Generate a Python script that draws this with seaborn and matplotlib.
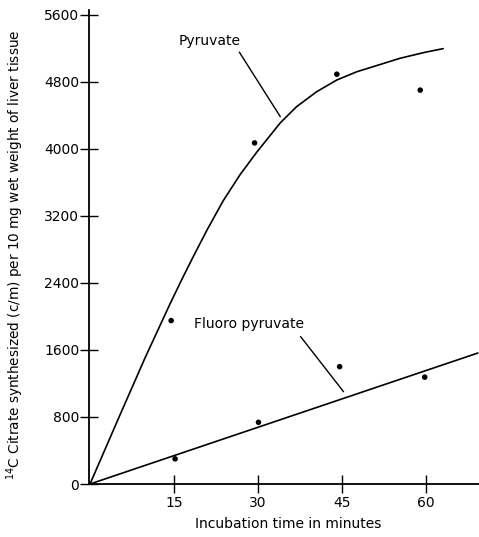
import matplotlib
matplotlib.use("Agg")
import matplotlib.pyplot as plt
import seaborn as sns

# Data
pyr_x = [14.5, 29.4, 44.1, 59.0]
pyr_y = [1950, 4070, 4890, 4700]
flu_x = [15.2, 30.1, 44.6, 59.8]
flu_y = [300, 736, 1400, 1275]

# Fitted curves as drawn in the figure
pyr_curve_x = [0, 5.1, 9.8, 14.3, 16.4, 18.5, 20.9, 23.8, 26.8, 29.8, 32.2, 34.0,
               36.9, 40.5, 44.1, 47.7, 50.6, 55.4, 59.9, 63.1]
pyr_curve_y = [0, 785, 1500, 2150, 2440, 2720, 3030, 3380, 3690, 3960, 4160, 4310,
               4502, 4681, 4821, 4920, 4980, 5080, 5152, 5195]
flu_curve_x = [0, 69.3]
flu_curve_y = [0, 1563]

x_ticks = [15, 30, 45, 60]
y_ticks = [0, 800, 1600, 2400, 3200, 4000, 4800, 5600]

sns.set_style("ticks")
plt.rcParams['font.family'] = ['DejaVu Sans']
for k in ["text.color", "axes.labelcolor", "xtick.color", "ytick.color", "axes.edgecolor"]:
    plt.rcParams[k] = "black"

fig = plt.figure(figsize=(4.79, 5.37), dpi=100)
W, H = 479, 537
ax = fig.add_axes([89 / W, 1 - 484 / H, (479 - 89) / W, (484 - 10) / H])

sns.lineplot(x=pyr_curve_x, y=pyr_curve_y, ax=ax, color="black", lw=1.2, sort=False)
sns.lineplot(x=flu_curve_x, y=flu_curve_y, ax=ax, color="black", lw=1.2, sort=False)
sns.scatterplot(x=pyr_x, y=pyr_y, ax=ax, color="black", s=16, edgecolor="none")
sns.scatterplot(x=flu_x, y=flu_y, ax=ax, color="black", s=16, edgecolor="none")

# annotations with pointer lines
ax.annotate("Pyruvate", xy=(34.0, 4383), xytext=(21.3, 5290),
            ha="center", va="center", fontsize=10,
            arrowprops=dict(arrowstyle="-", color="black", lw=1.0,
                            shrinkA=1, shrinkB=0,
                            relpos=(0.94, 0.0)))
ax.annotate("Fluoro pyruvate", xy=(45.3, 1101), xytext=(28.4, 1909),
            ha="center", va="center", fontsize=10,
            arrowprops=dict(arrowstyle="-", color="black", lw=1.0,
                            shrinkA=2, shrinkB=0,
                            relpos=(0.93, 0.0)))

ax.set_xlim(-0.18, 69.5)
ax.set_ylim(0, 5656)
ax.set_xticks(x_ticks)
ax.set_yticks(y_ticks)
ax.tick_params(direction="inout", length=13, width=1.0, labelsize=10, color="black")
ax.tick_params(axis="x", pad=2)
ax.tick_params(axis="y", pad=0.5)
sns.despine(ax=ax)
for s in ["left", "bottom"]:
    ax.spines[s].set_linewidth(1.3)
    ax.spines[s].set_color("black")

ax.set_xlabel("Incubation time in minutes", fontsize=10)
ax.xaxis.set_label_coords(0.51, -0.07)
ax.set_ylabel("$^{14}$C Citrate synthesized (c/m) per 10 mg wet weight of liver tissue",
              fontsize=9.8)
ax.yaxis.set_label_coords(-0.162, 0.483)

fig.savefig("out.png", dpi=100)
